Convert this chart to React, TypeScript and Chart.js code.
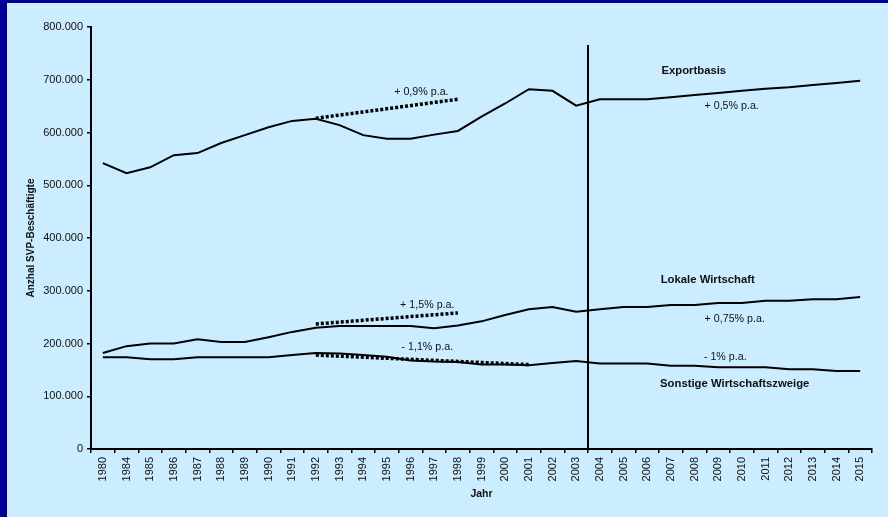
import { useEffect, useRef } from "react";
import { Chart, registerables } from "chart.js";

Chart.register(...registerables);

// Jahre (Kategorien der x-Achse)
const years = [
  "1980", "1984", "1985", "1986", "1987", "1988", "1989", "1990", "1991", "1992",
  "1993", "1994", "1995", "1996", "1997", "1998", "1999", "2000", "2001", "2002",
  "2003", "2004", "2005", "2006", "2007", "2008", "2009", "2010", "2011", "2012",
  "2013", "2014", "2015",
];

// SVP-Beschäftigte je Sektor
const exportbasis = [
  542000, 523000, 534000, 557000, 561000, 580000, 595000, 610000, 622000, 626000,
  614000, 595000, 588000, 588000, 596000, 603000, 630000, 655000, 682000, 679000,
  651000, 663000, 663000, 663000, 667000, 671000, 675000, 679000, 683000, 686000,
  690000, 694000, 698000,
];
const lokaleWirtschaft = [
  182000, 195000, 200000, 200000, 208000, 203000, 203000, 212000, 222000, 230000,
  233000, 233000, 233000, 233000, 229000, 234000, 242000, 254000, 265000, 269000,
  260000, 265000, 269000, 269000, 273000, 273000, 277000, 277000, 281000, 281000,
  284000, 284000, 288000,
];
const sonstige = [
  174000, 174000, 170000, 170000, 174000, 174000, 174000, 174000, 178000, 182000,
  181000, 178000, 175000, 168000, 166000, 165000, 160000, 160000, 159000, 163000,
  167000, 162000, 162000, 162000, 158000, 158000, 155000, 155000, 155000, 151000,
  151000, 148000, 148000,
];

// Trendgeraden 1992 ff. (Anfangs- und Endwert, dazwischen durchgezogen)
const _ = null;
const exportTrend = [
  _, _, _, _, _, _, _, _, _, 627000, _, _, _, _, _, 663000,
  _, _, _, _, _, _, _, _, _, _, _, _, _, _, _, _, _,
];
const lokaleTrend = [
  _, _, _, _, _, _, _, _, _, 237000, _, _, _, _, _, 258000,
  _, _, _, _, _, _, _, _, _, _, _, _, _, _, _, _, _,
];
const sonstigeTrend = [
  _, _, _, _, _, _, _, _, _, 178000, _, _, _, _, _, _, _, _, 160000,
  _, _, _, _, _, _, _, _, _, _, _, _, _, _,
];

// Trennlinie zwischen Ist-Werten und Prognose
const dividerAfter = "2003";
const dividerTop = 766000;

// Beschriftungen im Diagramm (x = Kategorienindex, y = Wert)
const notes = [
  { text: "Exportbasis", x: 24.97, y: 716500, bold: true },
  { text: "+ 0,5% p.a.", x: 26.57, y: 650000, bold: false },
  { text: "+ 0,9% p.a.", x: 13.46, y: 677000, bold: false },
  { text: "Lokale Wirtschaft", x: 25.56, y: 320000, bold: true },
  { text: "+ 0,75% p.a.", x: 26.7, y: 246000, bold: false },
  { text: "- 1% p.a.", x: 26.3, y: 174000, bold: false },
  { text: "Sonstige Wirtschaftszweige", x: 26.7, y: 123000, bold: true },
  { text: "+ 1,5% p.a.", x: 13.71, y: 273000, bold: false },
  { text: "- 1,1% p.a.", x: 13.71, y: 193000, bold: false },
];

const INK = "#000000";
const TEXT = "#111111";
const FONT = "Arial, 'Liberation Sans', Helvetica, sans-serif";

const deNumber = (v: number) =>
  String(Math.round(v)).replace(/\B(?=(\d{3})+(?!\d))/g, ".");

const overlay = {
  id: "overlay",
  afterDatasetsDraw(chart: any) {
    const { ctx, scales } = chart;
    const x = scales.x;
    const y = scales.y;
    const i = years.indexOf(dividerAfter);
    const px = (x.getPixelForValue(i) + x.getPixelForValue(i + 1)) / 2;
    ctx.save();
    ctx.strokeStyle = INK;
    ctx.lineWidth = 2;
    ctx.beginPath();
    ctx.moveTo(px, y.getPixelForValue(0));
    ctx.lineTo(px, y.getPixelForValue(dividerTop));
    ctx.stroke();

    ctx.fillStyle = TEXT;
    ctx.textAlign = "center";
    ctx.textBaseline = "middle";
    for (const n of notes) {
      ctx.font = n.bold ? `bold 11.3px ${FONT}` : `10.7px ${FONT}`;
      ctx.fillText(n.text, x.getPixelForValue(n.x), y.getPixelForValue(n.y));
    }
    ctx.restore();
  },
};

const solid = (data: number[]) => ({
  data,
  borderColor: INK,
  borderWidth: 2,
  pointRadius: 0,
  tension: 0,
  fill: false,
});

const dotted = (data: (number | null)[]) => ({
  data,
  borderColor: INK,
  borderWidth: 3.5,
  borderDash: [3, 2],
  borderCapStyle: "butt",
  pointRadius: 0,
  spanGaps: true,
  tension: 0,
  fill: false,
});

export default function App() {
  const canvasRef = useRef<HTMLCanvasElement>(null);

  useEffect(() => {
    const canvas = canvasRef.current;
    if (!canvas) return;
    const chart = new Chart(canvas, {
      type: "line",
      data: {
        labels: years,
        datasets: [
          { label: "Exportbasis", ...solid(exportbasis) },
          { label: "Lokale Wirtschaft", ...solid(lokaleWirtschaft) },
          { label: "Sonstige Wirtschaftszweige", ...solid(sonstige) },
          { label: "Trend Exportbasis", ...dotted(exportTrend) },
          { label: "Trend Lokale Wirtschaft", ...dotted(lokaleTrend) },
          { label: "Trend Sonstige", ...dotted(sonstigeTrend) },
        ] as any,
      },
      options: {
        responsive: false,
        animation: false,
        devicePixelRatio: 1,
        layout: { padding: { left: 0, right: 16, top: 24, bottom: 0 } },
        plugins: {
          legend: { display: false },
          tooltip: { enabled: false },
        },
        scales: {
          x: {
            type: "category",
            offset: true,
            grid: {
              offset: true,
              drawOnChartArea: false,
              drawTicks: true,
              tickLength: 4,
              color: INK,
              lineWidth: 1.5,
            },
            border: { display: true, color: INK, width: 2 },
            ticks: {
              autoSkip: false,
              minRotation: 90,
              maxRotation: 90,
              padding: 4,
              color: TEXT,
              font: { family: FONT, size: 11 },
            },
            title: {
              display: true,
              text: "Jahr",
              color: TEXT,
              font: { family: FONT, size: 10.5, weight: "bold" },
              padding: { top: 0, bottom: 17 },
            },
            afterFit(scale: any) {
              scale.height = 68;
            },
          },
          y: {
            min: 0,
            max: 800000,
            grid: {
              drawOnChartArea: false,
              drawTicks: true,
              tickLength: 4,
              color: INK,
              lineWidth: 1.5,
            },
            border: { display: true, color: INK, width: 2 },
            ticks: {
              stepSize: 100000,
              padding: 4,
              color: TEXT,
              font: { family: FONT, size: 11 },
              callback: (v: any) => deNumber(Number(v)),
            },
            title: {
              display: true,
              text: "Anzhal SVP-Beschäftigte",
              color: TEXT,
              font: { family: FONT, size: 10, weight: "bold" },
              padding: { top: 18, bottom: 0 },
            },
            afterFit(scale: any) {
              scale.width = 84;
            },
          },
        },
      } as any,
      plugins: [overlay],
    });
    return () => chart.destroy();
  }, []);

  return (
    <div
      style={{
        position: "fixed",
        left: 0,
        top: 0,
        width: 888,
        height: 517,
        background: "#000099",
      }}
    >
      <div
        style={{
          position: "absolute",
          left: 7,
          top: 3,
          width: 881,
          height: 514,
          background: "#CCECFF",
        }}
      >
        <canvas
          ref={canvasRef}
          width={881}
          height={514}
          style={{ display: "block", width: 881, height: 514 }}
        />
      </div>
    </div>
  );
}
